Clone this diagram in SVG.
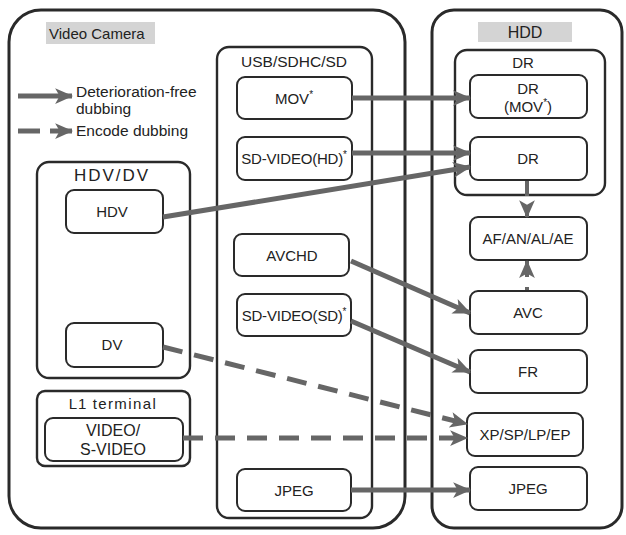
<svg xmlns="http://www.w3.org/2000/svg" width="626" height="535" viewBox="0 0 626 535">
<style>
.outer{fill:#fff;stroke:#2a2a2a;stroke-width:3}
.grp{fill:#fff;stroke:#2a2a2a;stroke-width:2.4}
.node{fill:#fff;stroke:#2a2a2a;stroke-width:2}
.lbl{fill:#d4d4d4}
text{font-family:"Liberation Sans",Arial,sans-serif;font-size:15px;fill:#222}
.c{text-anchor:middle}
.ar{fill:none;stroke:#666;stroke-width:5}
.dash{stroke-dasharray:20 12}
</style>
<defs>
<marker id="ah" markerUnits="userSpaceOnUse" markerWidth="18" markerHeight="18" refX="15" refY="8" orient="auto" viewBox="0 0 16 16">
<path d="M0,1 L16,8 L0,15 L4,8 z" fill="#666"/>
</marker>
</defs>
<g id="video-camera">
<rect class="outer" x="9" y="10" width="396" height="518" rx="32"/>
<rect class="lbl" x="46" y="22" width="109" height="22"/>
<text x="49" y="39">Video Camera</text>
</g>
<g id="hdd">
<rect class="outer" x="432" y="10" width="190" height="518" rx="22"/>
<rect class="lbl" x="478" y="22" width="94" height="20"/>
<text class="c" x="525" y="38" style="font-size:16px">HDD</text>
</g>
<g id="legend">
<line class="ar" x1="18" y1="96" x2="72" y2="96" marker-end="url(#ah)"/>
<text x="76" y="97" style="font-size:15.5px">Deterioration-free</text>
<text x="76" y="114" style="font-size:15.5px">dubbing</text>
<line class="ar" x1="18" y1="131" x2="40" y2="131"/>
<line class="ar" x1="50" y1="131" x2="72" y2="131" marker-end="url(#ah)"/>
<text x="76" y="136" style="font-size:15.5px">Encode dubbing</text>
</g>
<g id="usb-sdhc-sd">
<rect class="grp" x="217" y="47" width="155" height="471" rx="12"/>
<text class="c" x="294" y="67" style="font-size:15.5px">USB/SDHC/SD</text>
</g>
<g id="hdv-dv">
<rect class="grp" x="37" y="162" width="153" height="216" rx="12"/>
<text class="c" x="112" y="181" style="font-size:17px;letter-spacing:2px">HDV/DV</text>
</g>
<g id="l1-terminal">
<rect class="grp" x="37" y="391" width="153" height="75" rx="8"/>
<text class="c" x="113" y="409"><tspan style="font-size:15px;letter-spacing:1px">L1 </tspan><tspan style="letter-spacing:1.4px">terminal</tspan></text>
</g>
<g id="dr-group">
<rect class="grp" x="455" y="50" width="150" height="145" rx="12"/>
<text class="c" x="523" y="68">DR</text>
</g>
<g id="mov"><rect class="node" x="237" y="77" width="115" height="42" rx="8"/><text class="c" x="294" y="104">MOV<tspan style="font-size:10px" dy="-6">*</tspan></text></g>
<g id="sdvideo-hd"><rect class="node" x="237" y="137" width="115" height="43" rx="8"/><text class="c" x="294" y="164" style="font-size:15px;letter-spacing:-0.2px">SD-VIDEO(HD)<tspan style="font-size:10px" dy="-6">*</tspan></text></g>
<g id="avchd"><rect class="node" x="234" y="234" width="115" height="42" rx="8"/><text class="c" x="292" y="261">AVCHD</text></g>
<g id="sdvideo-sd"><rect class="node" x="237" y="294" width="114" height="42" rx="8"/><text class="c" x="294" y="321" style="font-size:15px;letter-spacing:-0.2px">SD-VIDEO(SD)<tspan style="font-size:10px" dy="-6">*</tspan></text></g>
<g id="jpeg-cam"><rect class="node" x="237" y="469" width="114" height="42" rx="8"/><text class="c" x="294" y="496">JPEG</text></g>
<g id="hdv"><rect class="node" x="66" y="190" width="97" height="43" rx="8"/><text class="c" x="112" y="217">HDV</text></g>
<g id="dv"><rect class="node" x="66" y="323" width="97" height="44" rx="8"/><text class="c" x="112" y="350">DV</text></g>
<g id="video-svideo"><rect class="node" x="45" y="418" width="138" height="43" rx="8"/><text class="c" x="113" y="436" style="font-size:16px">VIDEO/</text><text class="c" x="113" y="455" style="font-size:16px">S-VIDEO</text></g>
<g id="dr-mov"><rect class="node" x="470" y="75" width="117" height="43" rx="8"/><text class="c" x="528" y="94">DR</text><text class="c" x="528" y="112">(MOV<tspan style="font-size:10px" dy="-6">*</tspan><tspan dy="6">)</tspan></text></g>
<g id="dr"><rect class="node" x="470" y="137" width="117" height="43" rx="8"/><text class="c" x="528" y="164">DR</text></g>
<g id="af-an-al-ae"><rect class="node" x="470" y="217" width="117" height="43" rx="8"/><text class="c" x="528" y="244">AF/AN/AL/AE</text></g>
<g id="avc"><rect class="node" x="470" y="291" width="117" height="43" rx="8"/><text class="c" x="528" y="318">AVC</text></g>
<g id="fr"><rect class="node" x="470" y="350" width="117" height="43" rx="8"/><text class="c" x="528" y="377">FR</text></g>
<g id="xp-sp-lp-ep"><rect class="node" x="467" y="413" width="116" height="43" rx="8"/><text class="c" x="525" y="440">XP/SP/LP/EP</text></g>
<g id="jpeg-hdd"><rect class="node" x="470" y="467" width="117" height="43" rx="8"/><text class="c" x="528" y="494">JPEG</text></g>
<g id="connectors">
<line class="ar" x1="352" y1="98" x2="470" y2="98" marker-end="url(#ah)"/>
<line class="ar" x1="352" y1="153" x2="470" y2="153" marker-end="url(#ah)"/>
<line class="ar" x1="163" y1="217" x2="470" y2="167" marker-end="url(#ah)"/>
<line class="ar" x1="351" y1="261" x2="470" y2="313" marker-end="url(#ah)"/>
<line class="ar" x1="351" y1="321" x2="470" y2="372" marker-end="url(#ah)"/>
<line class="ar" x1="351" y1="490" x2="470" y2="490" marker-end="url(#ah)"/>
<line class="ar dash" x1="163" y1="347" x2="467" y2="424" marker-end="url(#ah)"/>
<line class="ar dash" x1="183" y1="438" x2="467" y2="438" marker-end="url(#ah)"/>
<line class="ar" style="stroke-width:4;stroke-dasharray:15 9 100" x1="527" y1="181" x2="527" y2="217" marker-end="url(#ah)"/>
<line class="ar" style="stroke-width:4;stroke-dasharray:3 10 100" x1="527" y1="290" x2="527" y2="261" marker-end="url(#ah)"/>
</g>
</svg>
